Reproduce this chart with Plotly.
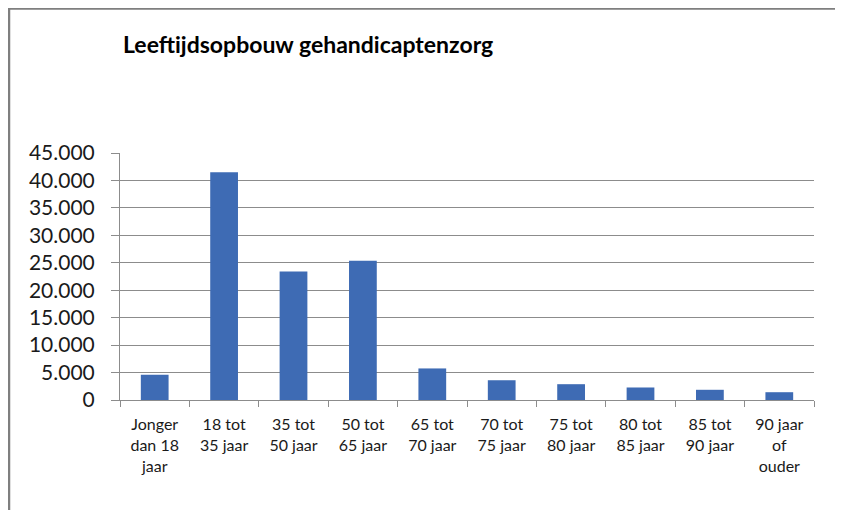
import plotly.graph_objects as go

categories = [
    "Jonger<br>dan 18<br>jaar",
    "18 tot<br>35 jaar",
    "35 tot<br>50 jaar",
    "50 tot<br>65 jaar",
    "65 tot<br>70 jaar",
    "70 tot<br>75 jaar",
    "75 tot<br>80 jaar",
    "80 tot<br>85 jaar",
    "85 tot<br>90 jaar",
    "90 jaar<br>of<br>ouder",
]
values = [4600, 41500, 23400, 25350, 5750, 3600, 2880, 2280, 1860, 1420]
y_ticks = [0, 5000, 10000, 15000, 20000, 25000, 30000, 35000, 40000, 45000]
title_text = "Leeftijdsopbouw gehandicaptenzorg"

BAR = "#3E6BB4"
GRID = "#8C8C8C"
FONT = "Lato"

fig = go.Figure(
    go.Bar(
        x=categories,
        y=values,
        marker=dict(color=BAR, line=dict(width=0)),
        width=0.4,
    )
)

# the page body adds an 8px offset, so the figure is drawn 8px smaller
OFF = 8
W, H = 843 - OFF, 510 - OFF
ml, mr, mt, mb = 120 - OFF, 29, 153 - OFF, 110
pw, ph = W - ml - mr, H - mt - mb

def px_x(x):
    return (x - OFF - ml) / pw

def px_y(y):
    return (H - mb - (y - OFF)) / ph

fig.update_layout(
    width=W,
    height=H,
    margin=dict(l=ml, r=mr, t=mt, b=mb, pad=0),
    paper_bgcolor="white",
    plot_bgcolor="white",
    separators=",.",
    showlegend=False,
    title=dict(
        text="<b>" + title_text + "</b>",
        font=dict(family=FONT, size=23, color="#000000"),
        xref="container",
        yref="container",
        x=(123 - OFF) / W,
        y=1 - (45 - OFF) / H,
        xanchor="left",
        yanchor="middle",
    ),
    xaxis=dict(
        type="category",
        showgrid=False,
        showline=True,
        linecolor=GRID,
        linewidth=1,
        ticks="outside",
        tickson="boundaries",
        ticklen=6,
        tickcolor=GRID,
        ticklabelstandoff=10,
        tickfont=dict(family=FONT, size=16, color="#1a1a1a"),
        range=[-0.5, 9.5],
    ),
    yaxis=dict(
        range=[0, 45000],
        tickvals=y_ticks,
        tickformat=",d",
        showgrid=True,
        gridcolor=GRID,
        gridwidth=1,
        showline=True,
        linecolor=GRID,
        linewidth=1,
        ticks="outside",
        ticklen=8,
        tickcolor=GRID,
        ticklabelstandoff=12,
        zeroline=False,
        tickfont=dict(family=FONT, size=21, color="#1a1a1a"),
    ),
    shapes=[
        dict(
            type="rect",
            xref="paper",
            yref="paper",
            x0=px_x(9),
            x1=px_x(838),
            y0=px_y(540),
            y1=px_y(8.5),
            line=dict(color="#7F7F7F", width=2.5),
            fillcolor="rgba(0,0,0,0)",
            layer="below",
        )
    ],
)

fig.write_html("out.html")
